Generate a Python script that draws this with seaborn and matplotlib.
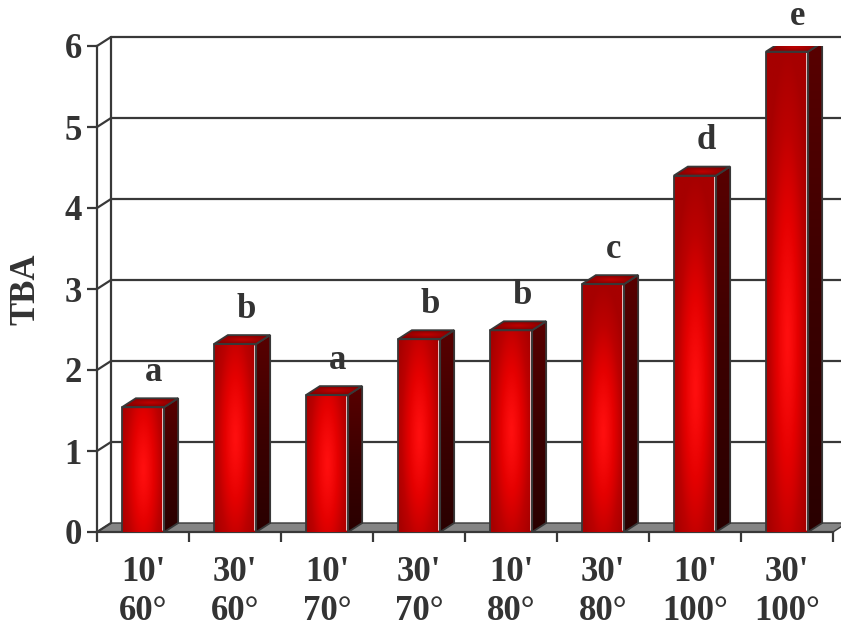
import numpy as np
import pandas as pd
import matplotlib
matplotlib.use("Agg")
import matplotlib.pyplot as plt
import seaborn as sns
from matplotlib.patches import Polygon
from matplotlib.colors import LinearSegmentedColormap

# ---- data ----
categories = ["10'\n60°", "30'\n60°", "10'\n70°", "30'\n70°",
              "10'\n80°", "30'\n80°", "10'\n100°", "30'\n100°"]
tba_values = [1.54, 2.32, 1.69, 2.38, 2.49, 3.06, 4.40, 5.93]
letters = ["a", "b", "a", "b", "b", "c", "d", "e"]
y_ticks = [0, 1, 2, 3, 4, 5, 6]

df = pd.DataFrame({"cat": categories, "TBA": tba_values})

sns.set_theme(style="white")
plt.rcParams['font.family'] = ['Liberation Serif', 'DejaVu Serif']
plt.rcParams['font.weight'] = 'bold'

TXT = "#333333"
EDGE = "#383838"

fig = plt.figure(figsize=(8.41, 6.31), dpi=100)
ax = fig.add_axes([97/841, (631-532)/631, (833-97)/841, 486/631])

sns.barplot(data=df, x="cat", y="TBA", color="#cc0000", width=0.46,
            ax=ax, zorder=5, edgecolor=EDGE, linewidth=1.2, errorbar=None)

ax.set_xlim(-0.5, 7.5)
ax.set_ylim(0, 6)

# depth offset (data units)
dx = 14 / 92.0
dy = 9 / 81.0

# floor
floor = Polygon([(-0.5, 0), (7.5, 0), (7.5 + dx, dy), (-0.5 + dx, dy)],
                closed=True, facecolor="#858585", edgecolor=EDGE, lw=1.0,
                zorder=1, clip_on=False)
ax.add_patch(floor)

# back wall grid lines and left wall
for t in y_ticks:
    if t > 0:
        ax.plot([-0.5 + dx, 7.5 + dx + 0.2], [t + dy, t + dy], color=EDGE,
                lw=1.6, zorder=0.5, clip_on=False)
    ax.plot([-0.5, -0.5 + dx], [t, t + dy], color=EDGE, lw=1.6, zorder=2,
            clip_on=False)
ax.plot([-0.5 + dx, -0.5 + dx], [dy, 6 + dy], color=EDGE, lw=1.6, zorder=2,
        clip_on=False)

# gradients
red_cmap = LinearSegmentedColormap.from_list(
    "r", ["#a60000", "#bc0000", "#e40000", "#ff0f0f"])
side_cmap = LinearSegmentedColormap.from_list(
    "s", ["#2a0000", "#3c0000", "#580000"])
top_cmap = LinearSegmentedColormap.from_list(
    "t", ["#780000", "#980000", "#c00000"])

nx, ny = 60, 200
uu = np.linspace(-1, 1, nx)
for p in list(ax.patches):
    if p is floor:
        continue
    x0 = p.get_x()
    w = p.get_width()
    h = p.get_height()
    if h <= 0:
        continue
    x1 = x0 + w
    # front face gradient
    vv = np.linspace(0, 1, ny)
    U, V = np.meshgrid(uu, vv)
    cy = 0.40 if h > 3 else 0.5
    sy = max(0.6, min(1.0, 1.8 / h))
    r = np.sqrt((U / 1.15) ** 2 + ((V - cy) / sy) ** 2)
    img = 1 - np.clip(r, 0, 1) ** 1.3
    im = ax.imshow(img, extent=(x0, x1, 0, h), origin="lower", cmap=red_cmap,
                   vmin=0, vmax=1, aspect="auto", zorder=5.5,
                   interpolation="bilinear")
    im.set_clip_path(p)
    # white highlight on right edge of front face
    ax.plot([x1 - 0.012, x1 - 0.012], [0.02, h - 0.02], color="#f4e0e0",
            lw=1.2, zorder=6)
    ax.plot([x0, x0, x1, x1], [0, h, h, 0], color=EDGE, lw=1.3, zorder=7)
    # side face
    spoly = [(x1, 0), (x1 + dx, dy), (x1 + dx, h + dy), (x1, h)]
    ax.add_patch(Polygon(spoly, closed=True, facecolor="none", edgecolor=EDGE,
                         lw=1.3, zorder=7))
    sv = np.linspace(0, 1, 50)[:, None] * np.ones((1, 10))
    simg = ax.imshow(sv, extent=(x1, x1 + dx, 0, h + dy), origin="lower",
                     cmap=side_cmap, vmin=0, vmax=1, aspect="auto",
                     zorder=5.5, interpolation="bilinear")
    simg.set_clip_path(Polygon(spoly, closed=True, transform=ax.transData))
    # top face
    tpoly = [(x0, h), (x1, h), (x1 + dx, h + dy), (x0 + dx, h + dy)]
    tu = np.linspace(-1, 1, 40)
    tv = np.linspace(-1, 1, 20)
    TU, TV = np.meshgrid(tu, tv)
    timg_arr = 1 - np.clip(np.sqrt(TU ** 2 + TV ** 2) / 1.3, 0, 1)
    timg = ax.imshow(timg_arr, extent=(x0, x1 + dx, h, h + dy), origin="lower",
                     cmap=top_cmap, vmin=0, vmax=1, aspect="auto",
                     zorder=5.5, interpolation="bilinear")
    timg.set_clip_path(Polygon(tpoly, closed=True, transform=ax.transData))
    ax.add_patch(Polygon(tpoly, closed=True, facecolor="none", edgecolor=EDGE,
                         lw=1.3, zorder=7))
    p.set_facecolor("none")
    p.set_edgecolor("none")

ax.set_xlim(-0.5, 7.5)
ax.set_ylim(0, 6)

# significance letters
for i, (v, l) in enumerate(zip(tba_values, letters)):
    ax.text(i + 0.12, v + 0.43, l, ha="center", va="center", fontsize=25,
            fontweight="bold", color=TXT, zorder=8, clip_on=False)

# axes styling
for s in ["top", "right"]:
    ax.spines[s].set_visible(False)
ax.spines["left"].set_color(EDGE)
ax.spines["left"].set_linewidth(1.6)
ax.spines["bottom"].set_color(EDGE)
ax.spines["bottom"].set_linewidth(1.6)
ax.spines["bottom"].set_zorder(3)

ax.set_yticks(y_ticks)
ax.set_yticklabels([str(t) for t in y_ticks], fontsize=25, fontweight="bold",
                   color=TXT)
ax.tick_params(axis="y", length=7, width=1.6, color=EDGE, pad=4, left=True)

ax.set_xticks(range(len(categories)))
ax.set_xticklabels(categories, fontsize=25, fontweight="bold", color=TXT,
                   linespacing=1.25)
ax.tick_params(axis="x", which="major", length=0, pad=17)
ax.set_xticks(np.arange(-0.5, 8.0, 1.0), minor=True)
ax.tick_params(axis="x", which="minor", length=7, width=1.6, color=EDGE,
               bottom=True)

ax.set_xlabel("")
ax.set_ylabel("TBA", fontsize=25, fontweight="bold", color=TXT, labelpad=16)
ax.grid(False)
ax.set_facecolor("none")

fig.savefig("out.png", dpi=100)
